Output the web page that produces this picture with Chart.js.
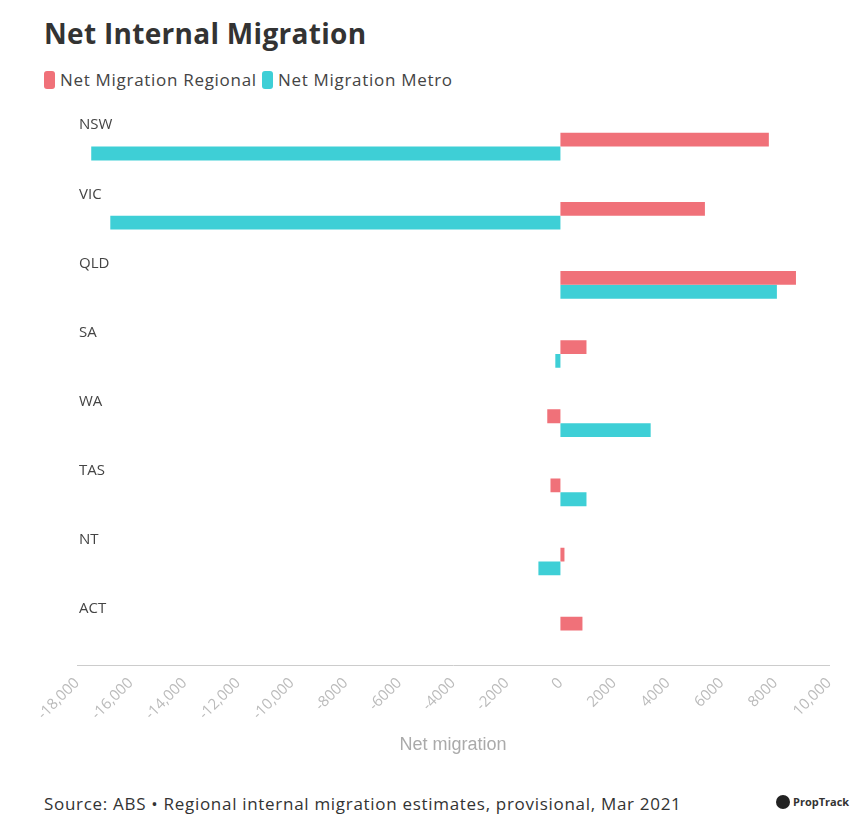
<!DOCTYPE html>
<html>
<head>
<meta charset="utf-8">
<script src="https://cdn.jsdelivr.net/npm/chart.js@4"></script>
<style>
  body { margin: 0; background: #fff; font-family: "Open Sans", Lato, sans-serif; }
  #titulo { position: absolute; left: 44px; top: 14px; font-size: 28px; font-weight: bold; color: #333; letter-spacing: 0.3px; }
  #leyenda { position: absolute; left: 44px; top: 68px; font-size: 17px; color: #444; letter-spacing: 0.7px; }
  #leyenda span.sw { display: inline-block; width: 11px; height: 18px; border-radius: 3px; vertical-align: -3px; margin-right: 5px; }
  #caja { position: absolute; left: 0; top: 100px; width: 857px; height: 660px; }
  #fuente { position: absolute; left: 44px; top: 792px; font-size: 17px; color: #333; letter-spacing: 0.7px; }
  #logo { position: absolute; left: 776px; top: 794px; font-size: 11px; font-weight: bold; color: #333; }
  #logo b { display: inline-block; width: 14px; height: 14px; border-radius: 7px; background: #222; vertical-align: -3px; margin-right: 3px; }
</style>
</head>
<body>
<div id="titulo">Net Internal Migration</div>
<div id="leyenda">
  <span class="sw" style="background:#f07179"></span>Net Migration Regional
  <span class="sw" style="background:#3ecfd6"></span>Net Migration Metro
</div>
<div id="caja"><canvas id="grafico"></canvas></div>
<div id="fuente">Source: ABS • Regional internal migration estimates, provisional, Mar 2021</div>
<div id="logo"><b></b>PropTrack</div>
<script>
// Datos
const estados = ["NSW", "VIC", "QLD", "SA", "WA", "TAS", "NT", "ACT"];
const regional = [7760, 5380, 8770, 970, -490, -370, 150, 820];
const metro = [-17470, -16760, 8060, -190, 3360, 970, -820, 0];

// Etiquetas de estado encima de cada grupo
const etiquetasPlugin = {
  id: "etiquetas",
  afterDraw(chart) {
    const ctx = chart.ctx;
    const y = chart.scales.y;
    const banda = (y.bottom - y.top) / estados.length;
    ctx.save();
    ctx.font = "15px 'Open Sans', sans-serif";
    ctx.fillStyle = "#444";
    ctx.textBaseline = "middle";
    estados.forEach((e, i) => {
      ctx.fillText(e, 79, y.getPixelForValue(i) - banda * 0.31);
    });
    ctx.restore();
  },
};

new Chart(document.getElementById("grafico"), {
  type: "bar",
  data: {
    labels: estados,
    datasets: [
      { label: "Net Migration Regional", data: regional, backgroundColor: "#f07179" },
      { label: "Net Migration Metro", data: metro, backgroundColor: "#3ecfd6" },
    ],
  },
  options: {
    indexAxis: "y",
    responsive: true,
    maintainAspectRatio: false,
    animation: false,
    categoryPercentage: 0.4,
    barPercentage: 1.0,
    layout: { padding: { left: 69, right: 28, top: 12 } },
    plugins: { legend: { display: false }, tooltip: { enabled: false } },
    scales: {
      x: {
        min: -18000,
        max: 10000,
        grid: { display: false, drawTicks: true, tickLength: 6, color: "#ccc" },
        border: { display: true, color: "#ccc" },
        ticks: {
          stepSize: 2000,
          maxRotation: 45,
          minRotation: 45,
          color: "#bbb",
          font: { size: 15, family: "'Open Sans', sans-serif" },
          callback: (v) => (Math.abs(v) >= 10000 ? v.toLocaleString("en-US") : String(v)),
        },
        title: { display: true, text: "Net migration", color: "#aaa", font: { size: 18 }, padding: { top: 8 } },
      },
      y: {
        grid: { display: false },
        border: { display: false },
        ticks: { display: false },
      },
    },
  },
  plugins: [etiquetasPlugin],
});
</script>
</body>
</html>
